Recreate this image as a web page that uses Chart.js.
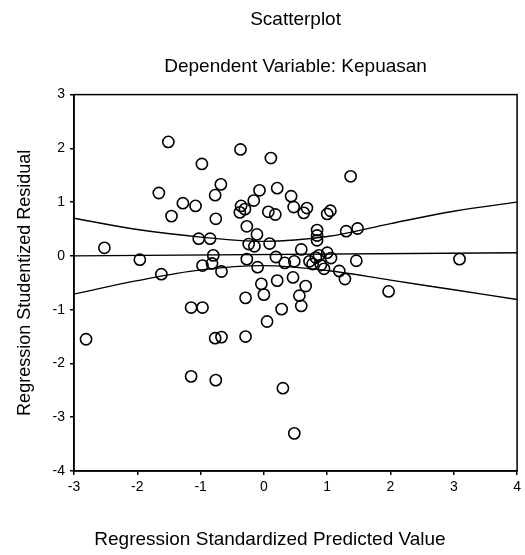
<!DOCTYPE html>
<html>
<head>
<meta charset="utf-8">
<script src="https://cdn.jsdelivr.net/npm/chart.js@4/dist/chart.umd.min.js"></script>
<style>
  html, body { margin: 0; padding: 0; background: #fff; }
  #wrap { width: 525px; height: 555px; position: relative; }
</style>
</head>
<body>
<div id="wrap"><canvas id="c" width="525" height="555"></canvas></div>
<script>
// Regression standardized predicted values (x) and studentized residuals (y)
const predicted = [
  -1.51, -0.37, 0.11, -0.98, -0.68, -0.77, -1.66, -0.07, 0.21, 0.43,
  -1.28, -1.08, -0.16, -0.36, -0.30, -0.38, 0.07, 0.18, -1.46, -0.76,
  -0.27, -0.11, -1.03, -0.85, -0.24, -0.15, 0.09, -2.52, -1.96, -0.80,
  -0.82, -0.97, -0.67, -1.62, -0.27, -0.10, 0.19, 0.33, -0.04, 0.21,
  -0.29, 0.00, 1.37, 0.47, 0.68, 0.63, 1.05, 1.00, 0.84, 0.84,
  0.84, 1.30, 1.48, 3.09, 1.46, 0.59, 0.48, 0.72, 0.87, 1.00,
  1.06, 0.77, 0.90, 0.95, 1.19, 1.28, 0.46, 0.66, 0.56, 1.97,
  0.59, 0.28, -1.15, -0.97, 0.05, -2.81, -0.77, -0.67, -0.29, -1.15,
  -0.76, 0.30, 0.48, 0.82
];
const residual = [
  2.12, 1.98, 1.82, 1.71, 1.33, 1.13, 1.17, 1.22, 1.26, 1.11,
  0.98, 0.93, 1.03, 0.93, 0.87, 0.81, 0.82, 0.77, 0.74, 0.69,
  0.55, 0.40, 0.32, 0.32, 0.22, 0.18, 0.23, 0.15, -0.07, 0.01,
  -0.14, -0.18, -0.29, -0.34, -0.06, -0.21, -0.02, -0.13, -0.52, -0.46,
  -0.78, -0.72, 1.48, 0.91, 0.89, 0.80, 0.84, 0.78, 0.48, 0.38,
  0.29, 0.46, 0.51, -0.06, -0.09, 0.12, -0.10, -0.10, 0.01, 0.06,
  -0.04, -0.15, -0.17, -0.24, -0.28, -0.43, -0.40, -0.56, -0.74, -0.66,
  -0.93, -0.99, -0.96, -0.96, -1.22, -1.55, -1.53, -1.51, -1.50, -2.24,
  -2.31, -2.46, -3.30, -0.03
];

// Fit line and confidence band
const bandX     = [-3, -2, -1, 0, 1, 2, 3, 4];
const upperBand = [0.70, 0.49, 0.35, 0.27, 0.36, 0.60, 0.83, 1.00];
const lowerBand = [-0.71, -0.46, -0.26, -0.18, -0.27, -0.45, -0.63, -0.81];
const fitX = [-3, 4];
const fitY = [0.00, 0.06];

const xTicks = [-3, -2, -1, 0, 1, 2, 3, 4];
const yTicks = [-4, -3, -2, -1, 0, 1, 2, 3];

const chartTitle = 'Scatterplot';
const chartSubtitle = 'Dependent Variable: Kepuasan';
const xTitle = 'Regression Standardized Predicted Value';
const yTitle = 'Regression Studentized Residual';

const FONT = "'Liberation Sans', Arial, Helvetica, sans-serif";
Chart.defaults.font.family = FONT;
Chart.defaults.color = '#000';

const pts = predicted.map((x, i) => ({ x: x, y: residual[i] }));
const upPts = bandX.map((x, i) => ({ x: x, y: upperBand[i] }));
const loPts = bandX.map((x, i) => ({ x: x, y: lowerBand[i] }));
const fitPts = fitX.map((x, i) => ({ x: x, y: fitY[i] }));

const framePlugin = {
  id: 'frame',
  afterDraw(chart) {
    const { ctx, chartArea: a } = chart;
    ctx.save();
    ctx.strokeStyle = '#000';
    ctx.lineWidth = 1.5;
    ctx.strokeRect(a.left, a.top, a.right - a.left, a.bottom - a.top);
    ctx.fillStyle = '#000';
    ctx.font = '19px ' + FONT;
    ctx.textAlign = 'center';
    ctx.textBaseline = 'middle';
    ctx.fillText(xTitle, 270, 540);
    ctx.restore();
  }
};

const lineStyle = {
  type: 'line',
  borderColor: '#000',
  borderWidth: 1.4,
  pointRadius: 0,
  fill: false,
  tension: 0.35
};

new Chart(document.getElementById('c'), {
  type: 'scatter',
  data: {
    datasets: [
      Object.assign({ data: upPts }, lineStyle),
      Object.assign({ data: loPts }, lineStyle),
      Object.assign({ data: fitPts }, lineStyle, { tension: 0 }),
      {
        type: 'scatter',
        data: pts,
        pointStyle: 'circle',
        pointRadius: 5.6,
        borderWidth: 1.6,
        borderColor: '#000',
        backgroundColor: 'rgba(0,0,0,0)'
      }
    ]
  },
  options: {
    responsive: false,
    animation: false,
    layout: { padding: { left: 0, right: 6, top: 0, bottom: 0 } },
    plugins: {
      legend: { display: false },
      tooltip: { enabled: false },
      title: {
        display: true,
        text: chartTitle,
        fullSize: false,
        font: { size: 19, weight: 'normal' },
        padding: { top: 8, bottom: 25 }
      },
      subtitle: {
        display: true,
        text: chartSubtitle,
        fullSize: false,
        font: { size: 19, weight: 'normal' },
        padding: { top: 0, bottom: 16 }
      }
    },
    scales: {
      x: {
        type: 'linear',
        min: -3, max: 4,
        afterBuildTicks(scale) { scale.ticks = xTicks.map(v => ({ value: v })); },
        afterFit(scale) { scale.height = 84; },
        grid: { display: true, drawOnChartArea: false, drawTicks: true, tickLength: 4, color: '#000', lineWidth: 1.5 },
        border: { display: true, color: '#000', width: 1.5 },
        ticks: { font: { size: 14 }, padding: 4, maxRotation: 0 }
      },
      y: {
        type: 'linear',
        min: -4, max: 3,
        afterBuildTicks(scale) { scale.ticks = yTicks.map(v => ({ value: v })); },
        afterFit(scale) { scale.width = 74; },
        grid: { display: true, drawOnChartArea: false, drawTicks: true, tickLength: 4, color: '#000', lineWidth: 1.5 },
        border: { display: true, color: '#000', width: 1.5 },
        ticks: { font: { size: 14 }, padding: 5 },
        title: {
          display: true,
          text: yTitle,
          font: { size: 18 },
          padding: { top: 14, bottom: 0 }
        }
      }
    }
  },
  plugins: [framePlugin]
});
</script>
</body>
</html>
